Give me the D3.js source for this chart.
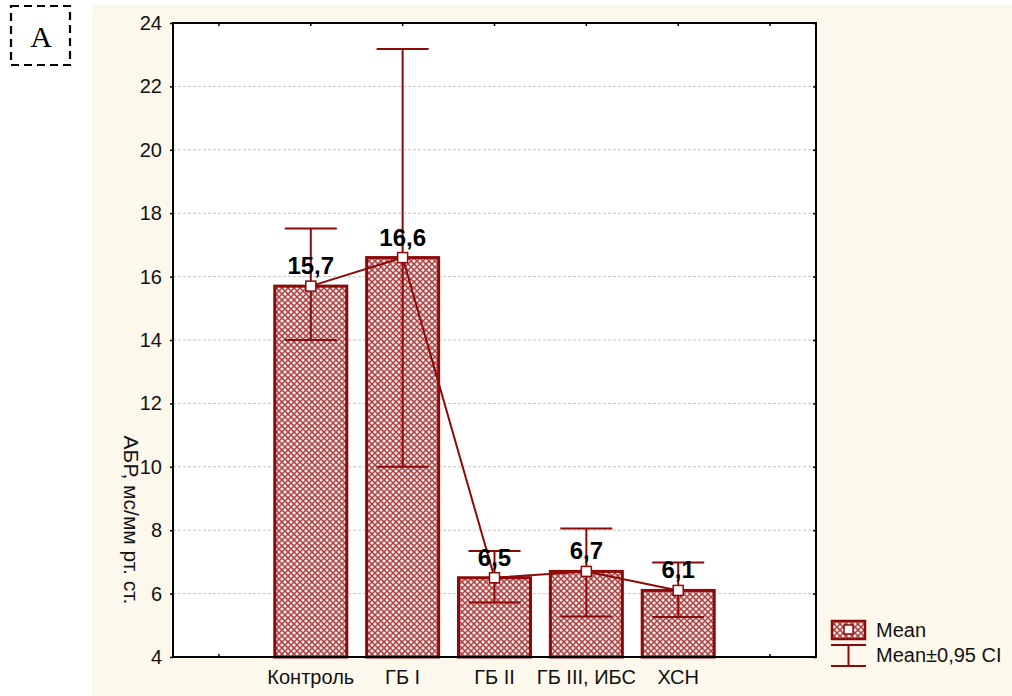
<!DOCTYPE html>
<html>
<head>
<meta charset="utf-8">
<script src="https://cdn.jsdelivr.net/npm/d3@7"></script>
<style>
  html, body { margin: 0; padding: 0; background: #ffffff; }
  svg { display: block; }
  text { font-family: "Liberation Sans", Arial, sans-serif; }
</style>
</head>
<body>
<svg id="chart" width="1012" height="696"></svg>
<script>
// Group names along the x axis
const categories = ["Контроль", "ГБ I", "ГБ II", "ГБ III, ИБС", "ХСН"];
// Group means
const means = [15.7, 16.6, 6.5, 6.7, 6.1];
// Lower and upper bounds of the 0.95 confidence interval
const ciLow  = [14.0, 10.0, 5.72, 5.28, 5.26];
const ciHigh = [17.52, 23.18, 7.34, 8.05, 6.98];
// Y axis ticks
const yTicks = [4, 6, 8, 10, 12, 14, 16, 18, 20, 22, 24];
const yTitle = "АБР, мс/мм рт. ст.";
const legendLabels = ["Mean", "Mean±0,95 CI"];

const DARK = "#8c0a0a";
const svg = d3.select("#chart");

// Cream backdrop behind the plot
svg.append("rect").attr("x", 92).attr("y", 5).attr("width", 920).attr("height", 691)
  .attr("fill", "#fdf8ec");

// Panel letter in a dashed frame
svg.append("rect").attr("x", 11).attr("y", 6).attr("width", 59).attr("height", 59)
  .attr("fill", "#ffffff").attr("stroke", "#000").attr("stroke-width", 2.2)
  .attr("stroke-dasharray", "8,5");
svg.append("text").attr("x", 41).attr("y", 47).attr("text-anchor", "middle")
  .style("font-family", "'Liberation Serif', 'Times New Roman', serif")
  .style("font-size", "30px").text("A");

// Cross-hatch fill for the bars
const defs = svg.append("defs");
const pat = defs.append("pattern").attr("id", "hatch").attr("patternUnits", "userSpaceOnUse")
  .attr("width", 6).attr("height", 6);
pat.append("rect").attr("width", 6).attr("height", 6).attr("fill", "#f6e4e4");
pat.append("path").attr("d", "M0,0L6,6M6,0L0,6").attr("stroke", "#b04040").attr("stroke-width", 1.4);
pat.append("path").attr("d", "M-1,-1L1,1M5,5L7,7M5,-1L7,1M-1,5L1,7").attr("stroke", "#b04040").attr("stroke-width", 1.4);
pat.append("rect").attr("x", 2.5).attr("y", 0).attr("width", 1).attr("height", 1).attr("fill", "#fff");
pat.append("rect").attr("x", 0).attr("y", 2.5).attr("width", 1).attr("height", 1).attr("fill", "#fff");

const plot = { left: 173, right: 816, top: 23, bottom: 657 };

// Seven slots: an empty one at each side of the five groups
const x = d3.scaleBand().domain(d3.range(categories.length + 2))
  .range([plot.left, plot.right]).padding(0);
const y = d3.scaleLinear().domain([4, 24]).range([plot.bottom, plot.top]);

// Plot area
svg.append("rect").attr("x", plot.left).attr("y", plot.top)
  .attr("width", plot.right - plot.left).attr("height", plot.bottom - plot.top)
  .attr("fill", "#ffffff");

// Horizontal dashed grid
svg.append("g").selectAll("line").data(yTicks.slice(1, -1)).join("line")
  .attr("x1", plot.left).attr("x2", plot.right)
  .attr("y1", d => y(d)).attr("y2", d => y(d))
  .attr("stroke", "#c4c4c4").attr("stroke-width", 1).attr("stroke-dasharray", "3,2");

// Y axis
const yAxis = svg.append("g").attr("transform", `translate(${plot.left},0)`)
  .call(d3.axisLeft(y).tickValues(yTicks).tickSize(3).tickPadding(8).tickFormat(d3.format("d")));
yAxis.select(".domain").remove();
yAxis.selectAll("text").style("font-size", "20px").attr("fill", "#111");
yAxis.selectAll("line").attr("stroke", "#000").attr("stroke-width", 1.5);

// Right-side inner ticks
svg.append("g").attr("transform", `translate(${plot.right},0)`)
  .call(d3.axisLeft(y).tickValues(yTicks).tickSize(3).tickFormat(""))
  .call(g => g.select(".domain").remove())
  .selectAll("line").attr("stroke", "#000").attr("stroke-width", 1.5);

// X axis (bottom) with group labels
const xAxis = svg.append("g").attr("transform", `translate(0,${plot.bottom})`)
  .call(d3.axisBottom(x).tickSize(-3).tickPadding(13)
    .tickFormat(i => (i >= 1 && i <= categories.length) ? categories[i - 1] : ""));
xAxis.select(".domain").remove();
xAxis.selectAll("text").style("font-size", "20px").attr("fill", "#111");
xAxis.selectAll("line").attr("stroke", "#000").attr("stroke-width", 1.5);

// Top inner ticks
svg.append("g").attr("transform", `translate(0,${plot.top})`)
  .call(d3.axisTop(x).tickSize(-3).tickFormat(""))
  .call(g => g.select(".domain").remove())
  .selectAll("line").attr("stroke", "#000").attr("stroke-width", 1.5);

// Y title, reading downward
svg.append("text")
  .attr("transform", `translate(124,520) rotate(90)`)
  .attr("text-anchor", "middle").style("font-size", "21px").attr("fill", "#111")
  .text(yTitle);

// Bars
const barW = 72;
const cx = i => x(i + 1) + x.bandwidth() / 2;
svg.append("g").selectAll("rect").data(means).join("rect")
  .attr("x", (d, i) => cx(i) - barW / 2).attr("width", barW)
  .attr("y", d => y(d)).attr("height", d => y(4) - y(d))
  .attr("fill", "url(#hatch)").attr("stroke", DARK).attr("stroke-width", 3);

// Confidence interval whiskers
const capW = 52;
const eb = svg.append("g").attr("stroke", DARK).attr("stroke-width", 2);
means.forEach((m, i) => {
  eb.append("line").attr("x1", cx(i)).attr("x2", cx(i))
    .attr("y1", y(ciLow[i])).attr("y2", y(ciHigh[i]));
  [ciLow[i], ciHigh[i]].forEach(v => {
    eb.append("line").attr("x1", cx(i) - capW / 2).attr("x2", cx(i) + capW / 2)
      .attr("y1", y(v)).attr("y2", y(v));
  });
});

// Line through the means
svg.append("path").datum(means)
  .attr("d", d3.line().x((d, i) => cx(i)).y(d => y(d)))
  .attr("fill", "none").attr("stroke", DARK).attr("stroke-width", 2);

// Mean markers
svg.append("g").selectAll("rect").data(means).join("rect")
  .attr("x", (d, i) => cx(i) - 5).attr("y", d => y(d) - 5)
  .attr("width", 10).attr("height", 10)
  .attr("fill", "#fff").attr("stroke", DARK).attr("stroke-width", 1.5);

// Value labels
svg.append("g").selectAll("text").data(means).join("text")
  .attr("x", (d, i) => cx(i)).attr("y", d => y(d) - 12)
  .attr("text-anchor", "middle").style("font-size", "24px").style("font-weight", "bold")
  .attr("fill", "#000")
  .text(d => d3.format(".1f")(d).replace(".", ","));

// Plot frame
svg.append("rect").attr("x", plot.left).attr("y", plot.top)
  .attr("width", plot.right - plot.left).attr("height", plot.bottom - plot.top)
  .attr("fill", "none").attr("stroke", "#000").attr("stroke-width", 2);

// Legend
const lg = svg.append("g");
lg.append("rect").attr("x", 832).attr("y", 621).attr("width", 33).attr("height", 18)
  .attr("fill", "url(#hatch)").attr("stroke", DARK).attr("stroke-width", 2.5);
lg.append("rect").attr("x", 844).attr("y", 625).attr("width", 9).attr("height", 9)
  .attr("fill", "#fff").attr("stroke", DARK).attr("stroke-width", 1.5);
lg.append("line").attr("x1", 831).attr("x2", 866).attr("y1", 645).attr("y2", 645)
  .attr("stroke", DARK).attr("stroke-width", 2);
lg.append("line").attr("x1", 831).attr("x2", 866).attr("y1", 666).attr("y2", 666)
  .attr("stroke", DARK).attr("stroke-width", 2);
lg.append("line").attr("x1", 848.5).attr("x2", 848.5).attr("y1", 645).attr("y2", 666)
  .attr("stroke", DARK).attr("stroke-width", 2);
lg.selectAll("text").data(legendLabels).join("text")
  .attr("x", 876).attr("y", (d, i) => 637 + i * 25)
  .style("font-size", "20px").attr("fill", "#111").text(d => d);
</script>
</body>
</html>
